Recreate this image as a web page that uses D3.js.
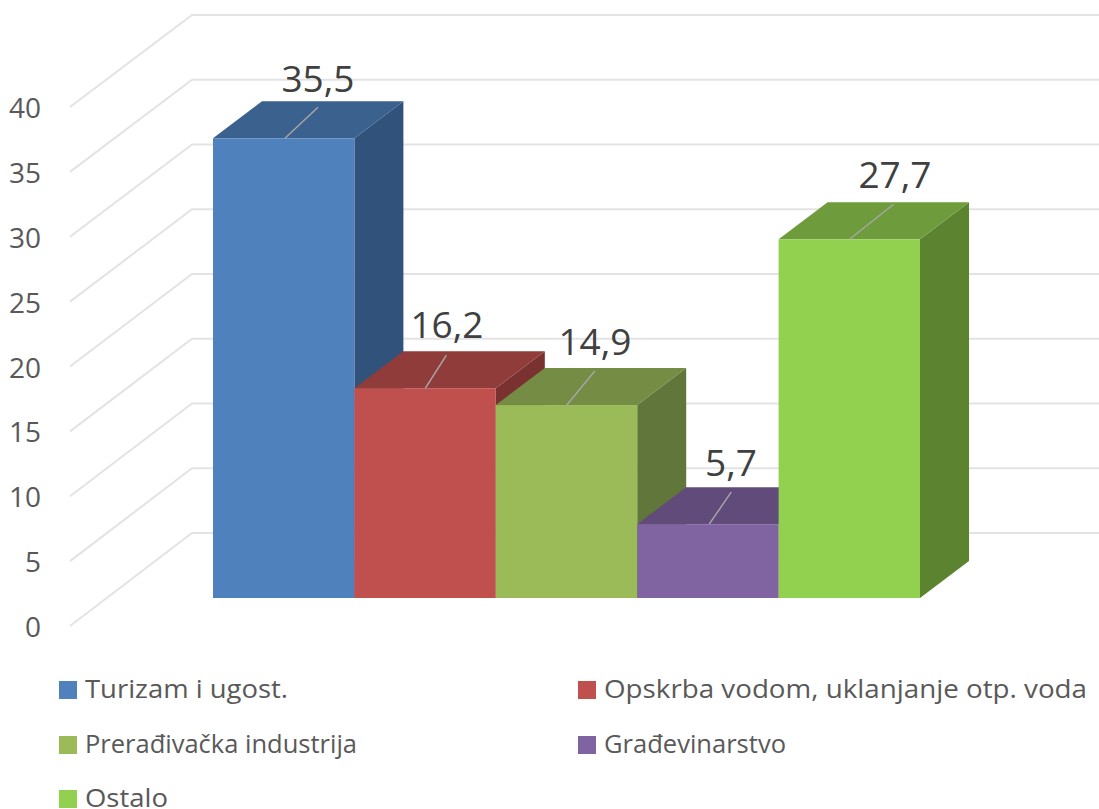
<!DOCTYPE html>
<html><head><meta charset="utf-8"><script src="https://cdn.jsdelivr.net/npm/d3@7"></script>
<style>html,body{margin:0;background:#fff}svg{display:block}text{font-family:"Open Sans",sans-serif}</style></head><body>
<svg id="c" width="1099" height="809"></svg>
<script>
const categories=["Turizam i ugost.","Opskrba vodom, uklanjanje otp. voda","Prerađivačka industrija","Građevinarstvo","Ostalo"];
const values=[35.5,16.2,14.9,5.7,27.7];
const labels=["35,5","16,2","14,9","5,7","27,7"];
const colors=["#4f81bd","#c0504d","#9bbb59","#8064a2","#92d050"];
const topColors=["#3b618e","#903c3a","#748c43","#604b7a","#6e9c3c"];
const sideColors=["#31527a","#7a3231","#61763a","#513f67","#5c8330"];
const ticks=d3.range(0,41,5);
const leaderFrom=[72,71,71,72,71];
const leaderRun=[[33,-31],[21,-33],[28,-34],[22,-32],[44,-35]];
const labelCenter=[318,447,595,731,895];
const labelBaseline=[92,338,355,476,188];
const legendWidth=[203,483,272,182,83];

const svg=d3.select("#c");
const dx=49,dy=-37;
const yBar=d3.scaleLinear().domain([0,40]).range([598,80]);
const yBack=d3.scaleLinear().domain([0,40]).range([533,15]);
const yFront=d3.scaleLinear().domain([0,40]).range([626,107]);
const x=d3.scaleBand().domain(d3.range(values.length)).range([213,920]);

svg.append("g").selectAll("path").data(ticks).join("path")
  .attr("d",t=>`M70,${yFront(t)}L192,${yBack(t)}L1099,${yBack(t)}`)
  .attr("fill","none").attr("stroke","#e3e3e3").attr("stroke-width",2);

svg.append("g").selectAll("text").data(ticks).join("text")
  .attr("x",41).attr("y",t=>yFront(t)+11).attr("text-anchor","end")
  .attr("font-size",28).attr("fill","#595959").text(t=>t);

const bars=svg.append("g");
values.forEach((v,i)=>{
  const x0=x(i),x1=x0+x.bandwidth(),yt=yBar(v),yb=yBar(0);
  bars.append("path").attr("d",`M${x1},${yt}L${x1+dx},${yt+dy}L${x1+dx},${yb+dy}L${x1},${yb}Z`).attr("fill",sideColors[i]);
  bars.append("path").attr("d",`M${x0},${yt}L${x0+dx},${yt+dy}L${x1+dx},${yt+dy}L${x1},${yt}Z`).attr("fill",topColors[i]);
  bars.append("rect").attr("x",x0).attr("y",yt).attr("width",x.bandwidth()).attr("height",yb-yt).attr("fill",colors[i]);
});
values.forEach((v,i)=>{
  const lx=x(i)+leaderFrom[i],yt=yBar(v);
  bars.append("line").attr("x1",lx).attr("y1",yt).attr("x2",lx+leaderRun[i][0]).attr("y2",yt+leaderRun[i][1])
    .attr("stroke","#a6a6a6").attr("stroke-width",1.5);
  bars.append("text").attr("x",labelCenter[i]).attr("y",labelBaseline[i]).attr("text-anchor","middle")
    .attr("font-size",37).attr("fill","#404040").text(labels[i]);
});

const lx=[59,578,59,578,59],ly=[681,681,736,736,790];
const lg=svg.append("g");
categories.forEach((c,i)=>{
  lg.append("rect").attr("x",lx[i]).attr("y",ly[i]).attr("width",18).attr("height",18).attr("fill",colors[i]);
  lg.append("text").attr("x",lx[i]+26).attr("y",ly[i]+17).attr("font-size",26).attr("fill","#595959")
    .attr("textLength",legendWidth[i]).attr("lengthAdjust","spacingAndGlyphs").text(c);
});
</script></body></html>
